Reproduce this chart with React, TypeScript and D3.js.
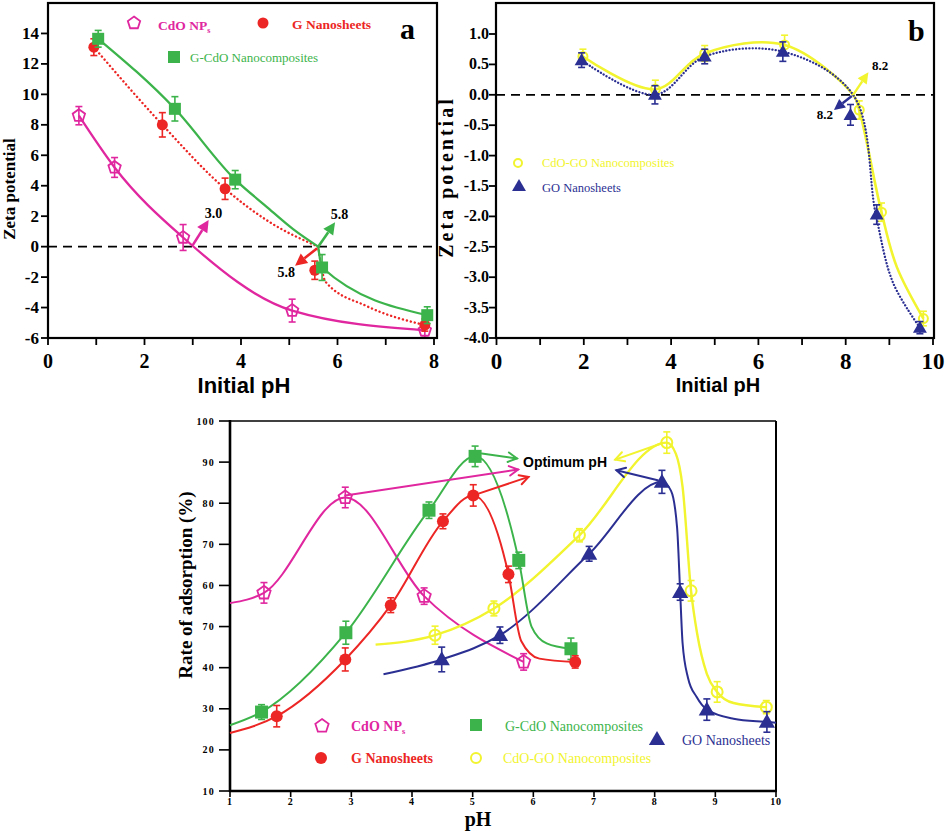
import React from "react";
import * as d3 from "d3";

// ---------------- Panel a data ----------------
const aXTicks = [0, 1, 2, 3, 4, 5, 6, 7, 8];
const aXLabels = [0, 2, 4, 6, 8];
const aYTicks = [-6, -4, -2, 0, 2, 4, 6, 8, 10, 12, 14];

const aCdoX = [0.64, 1.38, 2.8, 5.06, 7.81];
const aCdoY = [8.6, 5.2, 0.6, -4.2, -5.5];
const aCdoE = [0.6, 0.65, 0.85, 0.75, 0.45];

const aGX = [0.95, 2.37, 3.67, 5.53, 7.81];
const aGY = [13.1, 8.0, 3.8, -1.55, -5.15];
const aGE = [0.55, 0.8, 0.7, 0.6, 0.4];
// drawn curve of G nanosheets (two pieces meeting at the isoelectric point)
const aGCurve: [number, number][][] = [
  [[0.95, 13.1], [2.37, 8.0], [3.67, 3.8], [4.6, 1.6], [5.6, 0.0]],
  [[5.6, 0.0], [5.75, -2.3], [6.6, -3.9], [7.81, -5.15]],
];

const aGCdoX = [1.04, 2.63, 3.88, 5.68, 7.86];
const aGCdoY = [13.65, 9.05, 4.4, -1.37, -4.5];
const aGCdoE = [0.55, 0.8, 0.6, 0.85, 0.55];
const aGCdoCurve: [number, number][][] = [
  [[1.04, 13.65], [2.63, 9.05], [3.88, 4.4], [4.52, 2.65], [5.08, 1.15], [5.6, 0.0]],
  [[5.6, 0.0], [5.68, -1.37], [7.86, -4.5]],
];

// arrows: [x1, y1, x2, y2], label [x, y, text]
const aArrowCdo = [3.0, 0.1, 3.33, 1.75];
const aArrowCdoLabel = [3.25, 1.9, "3.0"];
const aArrowGCdo = [5.6, 0.0, 5.95, 1.6];
const aArrowGCdoLabel = [5.86, 1.8, "5.8"];
const aArrowG = [5.58, -0.1, 5.12, -1.25];
const aArrowGLabel = [5.12, -2.0, "5.8"];

// ---------------- Panel b data ----------------
const bXTicks = [0, 1, 2, 3, 4, 5, 6, 7, 8, 9, 10];
const bXLabels = [0, 2, 4, 6, 8, 10];
const bYTicks = [-4, -3.5, -3, -2.5, -2, -1.5, -1, -0.5, 0, 0.5, 1.0];

const bGOX = [1.95, 3.63, 4.77, 6.56, 8.11, 8.71, 9.7];
const bGOY = [0.57, 0.0, 0.63, 0.71, -0.33, -1.97, -3.83];
const bGOE = [0.12, 0.15, 0.12, 0.16, 0.17, 0.16, 0.1];
const bGOCurve: [number, number][][] = [
  [[1.95, 0.57], [3.63, 0.0], [4.77, 0.63], [6.56, 0.71], [8.17, 0.0], [8.69, -1.97], [9.09, -3.1], [9.7, -3.83]],
];

const bCdoGOX = [1.98, 3.64, 4.77, 6.6, 8.31, 8.82, 9.78];
const bCdoGOY = [0.63, 0.09, 0.68, 0.82, -0.25, -1.93, -3.68];
const bCdoGOE = [0.12, 0.15, 0.13, 0.16, 0.15, 0.15, 0.12];
const bCdoGOCurve: [number, number][][] = [
  [[1.98, 0.63], [3.64, 0.09], [4.77, 0.68], [6.6, 0.82], [8.17, 0.0], [8.31, -0.25], [8.82, -1.93], [9.17, -2.83], [9.78, -3.68]],
];

const bArrowY = [8.17, 0.0, 8.52, 0.37];
const bArrowYLabel = [8.6, 0.41, "8.2"];
const bArrowN = [8.14, -0.02, 7.73, -0.25];
const bArrowNLabel = [7.71, -0.4, "8.2"];

// ---------------- Panel c data ----------------
const cXTicks = [1, 2, 3, 4, 5, 6, 7, 8, 9, 10];
const cYTicks = [10, 20, 30, 40, 50, 60, 70, 80, 90, 100];
const cYLabels = ["10", "20", "30", "40", "70", "60", "70", "80", "90", "100"];

const cCdoX = [1.56, 2.9, 4.2, 5.84];
const cCdoY = [58.2, 81.4, 57.4, 41.4];
const cCdoE = [2.5, 2.5, 2.0, 2.0];
const cCdoCurve: [number, number][][] = [[[1.0, 55.7], [1.56, 58.2], [2.9, 81.4], [4.2, 57.4], [5.84, 41.4]]];

const cGCdoX = [1.52, 2.91, 4.28, 5.04, 5.76, 6.62];
const cGCdoY = [29.2, 48.5, 78.3, 91.4, 66.1, 44.6];
const cGCdoE = [1.8, 2.8, 2.0, 2.5, 2.0, 2.6];
const cGCdoCurve: [number, number][][] = [
  [[1.0, 26.0], [1.52, 29.2], [2.91, 48.5], [4.28, 78.3], [5.04, 91.4], [5.76, 66.1], [5.97, 50.0], [6.22, 45.9], [6.62, 44.6]],
];

const cGX = [1.77, 2.9, 3.65, 4.51, 5.01, 5.59, 6.69];
const cGY = [28.2, 42.0, 55.2, 75.6, 81.9, 62.7, 41.4];
const cGE = [2.6, 2.8, 1.8, 1.8, 2.6, 2.0, 1.5];
const cGCurve: [number, number][][] = [
  [[1.0, 24.1], [1.77, 28.2], [2.9, 42.0], [3.65, 55.2], [4.51, 75.6], [5.01, 81.9], [5.59, 62.7], [5.8, 46.5], [6.1, 42.2], [6.69, 41.4]],
];

const cCdoGOX = [4.38, 5.35, 6.76, 8.2, 8.6, 9.03, 9.84];
const cCdoGOY = [47.9, 54.4, 72.2, 94.75, 58.7, 34.1, 30.4];
const cCdoGOE = [2.2, 1.8, 1.6, 2.6, 2.5, 2.5, 1.6];
const cCdoGOCurve: [number, number][][] = [
  [[3.4, 45.6], [4.38, 47.9], [5.35, 54.4], [6.76, 72.2], [8.2, 94.75], [8.35, 92.0], [8.46, 84.0], [8.6, 58.7], [8.7, 48.3], [8.86, 38.5], [9.03, 34.1], [9.3, 31.4], [9.84, 30.4]],
];

const cGOX = [4.49, 5.45, 6.92, 8.12, 8.42, 8.86, 9.85];
const cGOY = [42.0, 47.9, 67.7, 85.2, 58.4, 29.8, 26.8];
const cGOE = [3.0, 2.0, 1.8, 2.8, 2.0, 2.6, 2.5];
const cGOCurve: [number, number][][] = [
  [[3.53, 38.4], [4.49, 42.0], [5.45, 47.9], [6.92, 67.7], [8.12, 85.2], [8.27, 83.0], [8.37, 74.0], [8.42, 58.4], [8.46, 46.0], [8.55, 37.5], [8.69, 32.9], [8.86, 29.8], [9.3, 27.6], [9.85, 26.8], [10.0, 26.6]],
];

const cArrows = [
  { s: [5.15, 92.1], e: [5.73, 90.9], c: "green" },
  { s: [2.9, 81.9], e: [5.75, 88.2], c: "magenta" },
  { s: [5.01, 81.9], e: [5.92, 86.4], c: "red" },
  { s: [8.12, 94.6], e: [7.35, 90.6], c: "yellow" },
  { s: [8.05, 85.6], e: [7.37, 88.0], c: "navy" },
];

// ---------------- styles ----------------
const COL: Record<string, string> = {
  magenta: "#e0279f",
  red: "#ec2624",
  green: "#3cb44b",
  yellow: "#f1f42e",
  navy: "#2b2f92",
};
const SERIF = "'Liberation Serif','Times New Roman',serif";
const SANS = "'Liberation Sans',Arial,sans-serif";

function pentagon(r: number) {
  const pts: string[] = [];
  for (let k = 0; k < 5; k++) {
    const a = -Math.PI / 2 + (k * 2 * Math.PI) / 5;
    pts.push(`${(r * Math.cos(a)).toFixed(2)},${(r * Math.sin(a)).toFixed(2)}`);
  }
  return "M" + pts.join("L") + "Z";
}

function Mark({ kind, x, y, size, color }: any) {
  if (kind === "pent")
    return (
      <path d={pentagon(size / 2)} transform={`translate(${x},${y})`} fill="none" stroke={color} strokeWidth={1.8} />
    );
  if (kind === "dot") return <circle cx={x} cy={y} r={size / 2} fill={color} />;
  if (kind === "sq") return <rect x={x - size / 2} y={y - size / 2} width={size} height={size} fill={color} />;
  if (kind === "ring") return <circle cx={x} cy={y} r={size / 2 - 1} fill="none" stroke={color} strokeWidth={2} />;
  const h = size;
  return (
    <path
      d={`M${x},${y - h * 0.58}L${x + h * 0.58},${y + h * 0.42}L${x - h * 0.58},${y + h * 0.42}Z`}
      fill={color}
    />
  );
}

function Series({ xs, ys, es, paths, sx, sy, color, kind, size, curve, dash, lw }: any) {
  const pts: [number, number][] = xs.map((x: number, i: number) => [x, ys[i]]);
  const line = d3
    .line<any>()
    .x((d) => sx(d[0]))
    .y((d) => sy(d[1]))
    .curve(curve);
  const segs: [number, number][][] = paths || [pts];
  return (
    <g>
      {segs.map((seg, k) => (
        <path
          key={"p" + k}
          d={line(seg) || ""}
          fill="none"
          stroke={color}
          strokeWidth={lw}
          strokeDasharray={dash}
          strokeLinecap={dash ? "round" : "butt"}
          strokeLinejoin="round"
        />
      ))}
      {pts.map((p, i) => {
        const X = sx(p[0]);
        const y1 = sy(p[1] - es[i]);
        const y2 = sy(p[1] + es[i]);
        return (
          <g key={"e" + i} stroke={color} strokeWidth={1.6}>
            <line x1={X} x2={X} y1={y1} y2={y2} />
            <line x1={X - 3.5} x2={X + 3.5} y1={y1} y2={y1} />
            <line x1={X - 3.5} x2={X + 3.5} y1={y2} y2={y2} />
          </g>
        );
      })}
      {pts.map((p, i) => (
        <Mark key={"m" + i} kind={kind} x={sx(p[0])} y={sy(p[1])} size={size} color={color} />
      ))}
    </g>
  );
}

function FilledArrow({ x1, y1, x2, y2, color, lw = 2.6, head = 12, hw = 6 }: any) {
  const a = Math.atan2(y2 - y1, x2 - x1);
  const bx = x2 - head * Math.cos(a);
  const by = y2 - head * Math.sin(a);
  const px = -Math.sin(a) * hw;
  const py = Math.cos(a) * hw;
  return (
    <g>
      <line x1={x1} y1={y1} x2={bx} y2={by} stroke={color} strokeWidth={lw} />
      <path d={`M${x2},${y2}L${bx + px},${by + py}L${bx - px},${by - py}Z`} fill={color} />
    </g>
  );
}

function OpenArrow({ x1, y1, x2, y2, color, lw = 2, head = 10 }: any) {
  const a = Math.atan2(y2 - y1, x2 - x1);
  const a1 = a + Math.PI - 0.5;
  const a2 = a + Math.PI + 0.5;
  return (
    <g stroke={color} strokeWidth={lw} fill="none" strokeLinecap="round">
      <line x1={x1} y1={y1} x2={x2} y2={y2} />
      <path
        d={`M${x2 + head * Math.cos(a1)},${y2 + head * Math.sin(a1)}L${x2},${y2}L${x2 + head * Math.cos(a2)},${y2 + head * Math.sin(a2)}`}
      />
    </g>
  );
}

function CdoLabel({ x, y, size, color }: any) {
  return (
    <text x={x} y={y} fontFamily={SERIF} fontWeight="bold" fontSize={size} fill={color}>
      CdO NP
      <tspan fontSize={size * 0.6} dy={size * 0.22}>
        s
      </tspan>
    </text>
  );
}

export default function App() {
  const xA = d3.scaleLinear().domain([0, 8]).range([48, 434]);
  const yA = d3.scaleLinear().domain([-6, 16]).range([338, 3]);
  const xB = d3.scaleLinear().domain([0, 10]).range([496.5, 933]);
  const yB = d3.scaleLinear().domain([-4, 1.5]).range([338, 3.6]);
  const xC = d3.scaleLinear().domain([1, 10]).range([230, 776]);
  const yC = d3.scaleLinear().domain([10, 100]).range([791, 421]);

  const mono = d3.curveMonotoneX;
  const cr = d3.curveCatmullRom.alpha(0.5);

  return (
    <svg width={946} height={831} style={{ position: "absolute", left: 0, top: 0, background: "white" }}>
      <rect x={0} y={0} width={946} height={831} fill="white" />

      {/* ================= Panel a ================= */}
      <g>
        <line x1={48} x2={437} y1={yA(0)} y2={yA(0)} stroke="#000" strokeWidth={1.8} strokeDasharray="9,6" />
        {aXTicks.map((t) => (
          <line key={t} x1={xA(t)} x2={xA(t)} y1={338} y2={345} stroke="#000" strokeWidth={1.8} />
        ))}
        {aXLabels.map((t) => (
          <text key={t} x={xA(t)} y={368} textAnchor="middle" fontFamily={SERIF} fontWeight="bold" fontSize={20}>
            {t}
          </text>
        ))}
        {aYTicks.map((t) => (
          <g key={t}>
            <line x1={41} x2={48} y1={yA(t)} y2={yA(t)} stroke="#000" strokeWidth={1.8} />
            <text x={39} y={yA(t) + 5.5} textAnchor="end" fontFamily={SERIF} fontWeight="bold" fontSize={17}>
              {t}
            </text>
          </g>
        ))}
        <text x={244} y={393} textAnchor="middle" fontFamily={SANS} fontWeight="bold" fontSize={22}>
          Initial pH
        </text>
        <text transform="translate(15,189) rotate(-90)" textAnchor="middle" fontFamily={SERIF} fontWeight="bold" fontSize={17}>
          Zeta potential
        </text>

        <Series xs={aCdoX} ys={aCdoY} es={aCdoE} sx={xA} sy={yA} color={COL.magenta} kind="pent" size={13} curve={mono} lw={2.3} />
        <Series xs={aGX} ys={aGY} es={aGE} paths={aGCurve} sx={xA} sy={yA} color={COL.red} kind="dot" size={11} curve={mono} lw={2.4} dash="0.1,4" />
        <Series xs={aGCdoX} ys={aGCdoY} es={aGCdoE} paths={aGCdoCurve} sx={xA} sy={yA} color={COL.green} kind="sq" size={12} curve={mono} lw={2.3} />

        <FilledArrow x1={xA(aArrowCdo[0])} y1={yA(aArrowCdo[1])} x2={xA(aArrowCdo[2])} y2={yA(aArrowCdo[3])} color={COL.magenta} />
        <FilledArrow x1={xA(aArrowGCdo[0])} y1={yA(aArrowGCdo[1])} x2={xA(aArrowGCdo[2])} y2={yA(aArrowGCdo[3])} color={COL.green} />
        <FilledArrow x1={xA(aArrowG[0])} y1={yA(aArrowG[1])} x2={xA(aArrowG[2])} y2={yA(aArrowG[3])} color={COL.red} />
        <text x={xA(aArrowCdoLabel[0] as number)} y={yA(aArrowCdoLabel[1] as number)} fontFamily={SERIF} fontWeight="bold" fontSize={14}>
          {aArrowCdoLabel[2]}
        </text>
        <text x={xA(aArrowGCdoLabel[0] as number)} y={yA(aArrowGCdoLabel[1] as number)} fontFamily={SERIF} fontWeight="bold" fontSize={14}>
          {aArrowGCdoLabel[2]}
        </text>
        <text x={xA(aArrowGLabel[0] as number)} y={yA(aArrowGLabel[1] as number)} textAnchor="end" fontFamily={SERIF} fontWeight="bold" fontSize={14}>
          {aArrowGLabel[2]}
        </text>

        {/* legend a */}
        <Mark kind="pent" x={134} y={23} size={13} color={COL.magenta} />
        <CdoLabel x={158} y={30} size={13.5} color={COL.magenta} />
        <Mark kind="dot" x={263} y={23} size={11} color={COL.red} />
        <text x={292} y={29} fontFamily={SERIF} fontWeight="bold" fontSize={13.5} fill={COL.red}>
          G Nanosheets
        </text>
        <Mark kind="sq" x={174} y={57} size={12} color={COL.green} />
        <text x={190} y={62} fontFamily={SERIF} fontSize={13} fill={COL.green}>
          G-CdO Nanocomposites
        </text>
        <text x={400} y={39} fontFamily={SERIF} fontWeight="bold" fontSize={30}>
          a
        </text>
        <rect x={48} y={3} width={389} height={335} fill="none" stroke="#000" strokeWidth={2.2} />
      </g>

      {/* ================= Panel b ================= */}
      <g>
        <line x1={496} x2={934} y1={yB(0)} y2={yB(0)} stroke="#000" strokeWidth={1.8} strokeDasharray="9,6" />
        {bXTicks.map((t) => (
          <line key={t} x1={xB(t)} x2={xB(t)} y1={338} y2={345} stroke="#000" strokeWidth={1.8} />
        ))}
        {bXLabels.map((t) => (
          <text key={t} x={xB(t)} y={369} textAnchor="middle" fontFamily={SERIF} fontWeight="bold" fontSize={23}>
            {t}
          </text>
        ))}
        {bYTicks.map((t) => (
          <g key={t}>
            <line x1={489} x2={496} y1={yB(t)} y2={yB(t)} stroke="#000" strokeWidth={1.8} />
            <text x={489} y={yB(t) + 5} textAnchor="end" fontFamily={SERIF} fontWeight="bold" fontSize={16}>
              {t.toFixed(1)}
            </text>
          </g>
        ))}
        <text x={718} y={392} textAnchor="middle" fontFamily={SANS} fontWeight="bold" fontSize={20}>
          Initial pH
        </text>
        <text
          transform="translate(453,177) rotate(-90)"
          textAnchor="middle"
          fontFamily={SERIF}
          fontWeight="bold"
          fontSize={20}
          letterSpacing={3}
        >
          Zeta potential
        </text>

        <Series xs={bCdoGOX} ys={bCdoGOY} es={bCdoGOE} paths={bCdoGOCurve} sx={xB} sy={yB} color={COL.yellow} kind="ring" size={11} curve={cr} lw={2.6} />
        <Series xs={bGOX} ys={bGOY} es={bGOE} paths={bGOCurve} sx={xB} sy={yB} color={COL.navy} kind="tri" size={12} curve={cr} lw={2.3} dash="0.1,3.2" />

        <FilledArrow x1={xB(bArrowY[0])} y1={yB(bArrowY[1])} x2={xB(bArrowY[2])} y2={yB(bArrowY[3])} color={COL.yellow} lw={2.4} head={11} hw={5.5} />
        <FilledArrow x1={xB(bArrowN[0])} y1={yB(bArrowN[1])} x2={xB(bArrowN[2])} y2={yB(bArrowN[3])} color={COL.navy} lw={2.4} head={11} hw={5.5} />
        <text x={xB(bArrowYLabel[0] as number)} y={yB(bArrowYLabel[1] as number)} fontFamily={SERIF} fontWeight="bold" fontSize={13}>
          {bArrowYLabel[2]}
        </text>
        <text x={xB(bArrowNLabel[0] as number)} y={yB(bArrowNLabel[1] as number)} textAnchor="end" fontFamily={SERIF} fontWeight="bold" fontSize={13}>
          {bArrowNLabel[2]}
        </text>

        {/* legend b */}
        <Mark kind="ring" x={518} y={163} size={10} color={COL.yellow} />
        <text x={542} y={167} fontFamily={SERIF} fontSize={12.5} fill={COL.yellow}>
          CdO-GO Nanocomposites
        </text>
        <Mark kind="tri" x={519} y={186} size={12} color={COL.navy} />
        <text x={542} y={192} fontFamily={SERIF} fontSize={12.5} fill={COL.navy}>
          GO Nanosheets
        </text>
        <text x={908} y={41} fontFamily={SERIF} fontWeight="bold" fontSize={30}>
          b
        </text>
        <rect x={496} y={3} width={438} height={335} fill="none" stroke="#000" strokeWidth={2.2} />
      </g>

      {/* ================= Panel c ================= */}
      <g>
        <line x1={230} x2={776} y1={421} y2={421} stroke="#000" strokeWidth={1.6} />
        <line x1={776} x2={776} y1={421} y2={791} stroke="#000" strokeWidth={2} />
        {cXTicks.map((t) => (
          <g key={t}>
            <line x1={xC(t)} x2={xC(t)} y1={791} y2={797} stroke="#000" strokeWidth={1.6} />
            <text x={xC(t)} y={805} textAnchor="middle" fontFamily={SERIF} fontWeight="bold" fontSize={10} letterSpacing={0.8}>
              {t}
            </text>
          </g>
        ))}
        {cYTicks.map((t, i) => (
          <g key={t}>
            <line x1={219} x2={230} y1={yC(t)} y2={yC(t)} stroke="#000" strokeWidth={1.6} />
            <text x={215} y={yC(t) + 3.5} textAnchor="end" fontFamily={SERIF} fontWeight="bold" fontSize={10} letterSpacing={1.2}>
              {cYLabels[i]}
            </text>
          </g>
        ))}
        <line x1={230} x2={230} y1={420} y2={792} stroke="#000" strokeWidth={2.6} />
        <line x1={229} x2={777} y1={791} y2={791} stroke="#000" strokeWidth={2.6} />
        <text x={478} y={826} textAnchor="middle" fontFamily={SERIF} fontWeight="bold" fontSize={20}>
          pH
        </text>
        <text transform="translate(192,585) rotate(-90)" textAnchor="middle" fontFamily={SERIF} fontWeight="bold" fontSize={19}>
          Rate of adsorption (%)
        </text>

        <Series xs={cCdoX} ys={cCdoY} es={cCdoE} paths={cCdoCurve} sx={xC} sy={yC} color={COL.magenta} kind="pent" size={14} curve={mono} lw={2} />
        <Series xs={cCdoGOX} ys={cCdoGOY} es={cCdoGOE} paths={cCdoGOCurve} sx={xC} sy={yC} color={COL.yellow} kind="ring" size={13} curve={mono} lw={2.4} />
        <Series xs={cGOX} ys={cGOY} es={cGOE} paths={cGOCurve} sx={xC} sy={yC} color={COL.navy} kind="tri" size={14} curve={mono} lw={2} />
        <Series xs={cGCdoX} ys={cGCdoY} es={cGCdoE} paths={cGCdoCurve} sx={xC} sy={yC} color={COL.green} kind="sq" size={13} curve={mono} lw={2} />
        <Series xs={cGX} ys={cGY} es={cGE} paths={cGCurve} sx={xC} sy={yC} color={COL.red} kind="dot" size={12} curve={mono} lw={2} />

        {cArrows.map((a, i) => (
          <OpenArrow key={i} x1={xC(a.s[0])} y1={yC(a.s[1])} x2={xC(a.e[0])} y2={yC(a.e[1])} color={COL[a.c]} />
        ))}
        <text x={523} y={467} fontFamily={SANS} fontWeight="bold" fontSize={14}>
          Optimum pH
        </text>

        {/* legend c */}
        <Mark kind="pent" x={322} y={726} size={14} color={COL.magenta} />
        <CdoLabel x={351} y={731} size={14} color={COL.magenta} />
        <Mark kind="sq" x={476} y={725} size={12} color={COL.green} />
        <text x={505} y={731} fontFamily={SERIF} fontSize={14} fill={COL.green}>
          G-CdO Nanocomposites
        </text>
        <Mark kind="dot" x={321} y={758} size={12} color={COL.red} />
        <text x={351} y={763} fontFamily={SERIF} fontWeight="bold" fontSize={14} fill={COL.red}>
          G Nanosheets
        </text>
        <Mark kind="ring" x={476} y={758} size={12} color={COL.yellow} />
        <text x={503} y={763} fontFamily={SERIF} fontSize={14} fill={COL.yellow}>
          CdO-GO Nanocomposites
        </text>
        <Mark kind="tri" x={657} y={739} size={14} color={COL.navy} />
        <text x={682} y={745} fontFamily={SERIF} fontSize={14} fill={COL.navy}>
          GO Nanosheets
        </text>
      </g>
    </svg>
  );
}
